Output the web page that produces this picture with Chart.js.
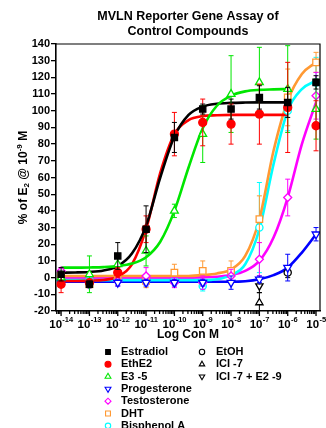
<!DOCTYPE html>
<html>
<head>
<meta charset="utf-8">
<script src="https://cdn.jsdelivr.net/npm/chart.js@4.4.1/dist/chart.umd.min.js"></script>
<style>
    html, body { margin: 0; padding: 0; background: #fff; }
</style>
</head>
<body>
<canvas id="chart" width="326" height="428"></canvas>
<script>
// log molar concentrations of the measured points
const logConc = [-14, -13, -12, -11, -10, -9, -8, -7, -6, -5];

// measured means (% of E2 @ 10-9 M) and error bars
const estradiol = [2, -4, 13, 29, 84, 101, 101, 108, 105, 117];
const estradiolErr = [4, 2, 8, 14, 9, 3, 6, 7, 9, 4];
const ethE2 = [-4, -3, 3, 29, 86, 93, 92, 98, 102, 91];
const ethE2Err = [5, 2, 3, 8, 13, 14, 12, 18, 27, 15];
const e3 = [0, 2, 8, 16, 40, 86, 110, 117, 113, 101];
const e3Err = [3, 11, 4, 9, 4, 17, 23, 21, 26, 18];
const progesterone = [-3, -4, -3, -3, -3, -3, -3, -1, 6, 26];
const progesteroneErr = [2, 2, 2, 2, 2, 2, 4, 2, 8, 4];
const testosterone = [4, -3, -2, 1, -3, -3, 1, 11, 48, 109];
const testosteroneErr = [2, 2, 3, 5, 3, 4, 4, 10, 11, 14];
const dht = [1, -4, 1, -2, 3, 4, 4, 35, 108, 129];
const dhtErr = [3, 2, 3, 4, 5, 6, 6, 14, 17, 6];
const bisphenolA = [-1, -2, -1, -2, -2, -5, 2, 30, 100, 117];
const bisphenolAErr = [2, 2, 2, 2, 2, 3, 4, 27, 12, 15];

// controls
const etohX = [-6], etoh = [3], etohErr = [3];
const iciX = [-7], ici = [-15], iciErr = [6];
const iciE2X = [-7], iciE2 = [-5], iciE2Err = [4];

// fitted curves, every half decade
const curveX = [-14, -13.5, -13, -12.5, -12, -11.5, -11, -10.5, -10, -9.5, -9, -8.5, -8, -7.5, -7, -6.5, -6, -5.5, -5];
const estradiolFit = [3, 3.1, 3.4, 4.3, 6.9, 14.4, 31, 60, 84.6, 97.5, 102.5, 104.2, 104.7, 104.9, 105, 105, 105];
const ethE2Fit = [-2, -2, -1.8, -1.4, 0.6, 7.9, 29, 62.7, 86, 94.4, 96.8, 97.3, 97.5, 97.5, 97.5, 97.5, 97.5];
const e3Fit = [6, 6, 6.1, 6.3, 6.9, 8.4, 12.2, 21.5, 40, 66, 89.5, 103, 109, 111.6, 112.5, 112.8, 113];
const progesteroneFit = [-2.5, -2.5, -2.5, -2.5, -2.5, -2.5, -2.5, -2.5, -2.5, -2.5, -2.5, -2.5, -2.5, -2.2, -1, 1.5, 6, 15, 26];
const testosteroneFit = [0, 0, 0, 0, 0, 0, 0, 0, 0, 0, 0.2, 0.5, 1.5, 4, 10, 24, 48, 80, 105];
const dhtFit = [1, 1, 1, 1, 1, 1, 1, 1, 1, 1, 1.5, 2.5, 5, 13, 35, 76, 106, 122, 129];
const bisphenolAFit = [-1.5, -1.5, -1.5, -1.5, -1.5, -1.5, -1.5, -1.5, -1.5, -1.5, -1.5, -1, 1.5, 8, 29, 68, 100, 113, 118];

const FONT = '"Liberation Sans", Arial, sans-serif';

const series = [
    { name: 'Estradiol', color: '#000000', x: logConc, y: estradiol, err: estradiolErr, fit: estradiolFit, style: 'rect', radius: 4.4, filled: true, rot: 0, fitOrder: 21 },
    { name: 'EthE2', color: '#ff0000', x: logConc, y: ethE2, err: ethE2Err, fit: ethE2Fit, style: 'circle', radius: 4, filled: true, rot: 0, fitOrder: 22 },
    { name: 'E3 -5', color: '#00e600', x: logConc, y: e3, err: e3Err, fit: e3Fit, style: 'triangle', radius: 4.5, filled: false, rot: 0, fitOrder: 20 },
    { name: 'Progesterone', color: '#0000ff', x: logConc, y: progesterone, err: progesteroneErr, fit: progesteroneFit, style: 'triangle', radius: 4.5, filled: false, rot: 180, fitOrder: 26 },
    { name: 'Testosterone', color: '#ff00ff', x: logConc, y: testosterone, err: testosteroneErr, fit: testosteroneFit, style: 'rectRot', radius: 4, filled: false, rot: 0, fitOrder: 25 },
    { name: 'DHT', color: '#ff9933', x: logConc, y: dht, err: dhtErr, fit: dhtFit, style: 'rect', radius: 4.6, filled: false, rot: 0, fitOrder: 23 },
    { name: 'Bisphenol A', color: '#00ffff', x: logConc, y: bisphenolA, err: bisphenolAErr, fit: bisphenolAFit, style: 'circle', radius: 3.6, filled: false, rot: 0, fitOrder: 24 },
    { name: 'EtOH', color: '#000000', x: etohX, y: etoh, err: etohErr, fit: null, style: 'circle', radius: 3.6, filled: false, rot: 0 },
    { name: 'ICI -7', color: '#000000', x: iciX, y: ici, err: iciErr, fit: null, style: 'triangle', radius: 4.2, filled: false, rot: 0 },
    { name: 'ICI -7 + E2 -9', color: '#000000', x: iciE2X, y: iciE2, err: iciE2Err, fit: null, style: 'triangle', radius: 4.2, filled: false, rot: 180 }
];

const datasets = [];
series.forEach((s, i) => {
    if (s.fit) {
        datasets.push({
            label: s.name + ' fit',
            data: s.fit.map((v, j) => ({ x: curveX[j], y: v })),
            showLine: true,
            pointRadius: 0,
            borderColor: s.color,
            borderWidth: 2.6,
            cubicInterpolationMode: 'monotone',
            order: s.fitOrder
        });
    }
    datasets.push({
        label: s.name,
        data: s.x.map((x, j) => ({ x: x, y: s.y[j] })),
        showLine: false,
        pointStyle: s.style,
        pointRotation: s.rot,
        pointRadius: s.radius,
        pointBorderWidth: 1.3,
        pointBorderColor: s.color,
        pointBackgroundColor: s.filled ? s.color : '#ffffff',
        errors: s.err,
        errColor: s.color,
        order: i
    });
});

function drawMarker(ctx, s, x, y, r) {
    ctx.save();
    ctx.fillStyle = s.filled ? s.color : '#ffffff';
    ctx.strokeStyle = s.color;
    ctx.lineWidth = 1.1;
    Chart.helpers.drawPoint(ctx, { pointStyle: s.style, radius: r, rotation: s.rot, borderWidth: 1.1 }, x, y);
    ctx.restore();
}

const errorBars = {
    id: 'errorBars',
    beforeDatasetDraw(chart, args) {
        const ds = chart.data.datasets[args.index];
        if (!ds.errors) return;
        const { ctx, chartArea, scales } = chart;
        ctx.save();
        ctx.beginPath();
        ctx.rect(chartArea.left, chartArea.top - 1, chartArea.right - chartArea.left + 1, chartArea.bottom - chartArea.top + 1);
        ctx.clip();
        ctx.strokeStyle = ds.errColor;
        ctx.lineWidth = 1;
        ds.data.forEach((p, j) => {
            const e = ds.errors[j];
            const px = scales.x.getPixelForValue(p.x);
            const top = scales.y.getPixelForValue(p.y + e);
            const bot = scales.y.getPixelForValue(p.y - e);
            ctx.beginPath();
            ctx.moveTo(px, top); ctx.lineTo(px, bot);
            ctx.moveTo(px - 2.5, top); ctx.lineTo(px + 2.5, top);
            ctx.moveTo(px - 2.5, bot); ctx.lineTo(px + 2.5, bot);
            ctx.stroke();
        });
        ctx.restore();
    }
};

const decorations = {
    id: 'decorations',
    afterDraw(chart) {
        const { ctx, chartArea, scales } = chart;
        const xs = scales.x;
        ctx.save();
        ctx.strokeStyle = '#000';
        ctx.fillStyle = '#000';

        // frame top and right
        ctx.lineWidth = 1.2;
        ctx.beginPath();
        ctx.moveTo(chartArea.left, chartArea.top);
        ctx.lineTo(chartArea.right, chartArea.top);
        ctx.lineTo(chartArea.right, chartArea.bottom);
        ctx.stroke();

        // x ticks, major and minor
        const b = chartArea.bottom;
        ctx.lineWidth = 1.3;
        for (let n = -15; n <= -5; n++) {
            for (let k = 1; k <= 9; k++) {
                const v = n + Math.log10(k);
                if (v < xs.min || v > xs.max) continue;
                const px = xs.getPixelForValue(v);
                ctx.beginPath();
                ctx.moveTo(px, b);
                ctx.lineTo(px, b + (k === 1 ? 5 : 3));
                ctx.stroke();
            }
        }

        // x tick labels 10^n
        logConc.forEach(n => {
            const px = xs.getPixelForValue(n);
            const exp = String(n);
            ctx.font = 'bold 11.5px ' + FONT;
            const w1 = ctx.measureText('10').width;
            ctx.font = 'bold 7.5px ' + FONT;
            const w2 = ctx.measureText(exp).width;
            const start = px - (w1 + w2) / 2;
            ctx.textAlign = 'left';
            ctx.textBaseline = 'alphabetic';
            ctx.font = 'bold 11.5px ' + FONT;
            ctx.fillText('10', start, 328);
            ctx.font = 'bold 7.5px ' + FONT;
            ctx.fillText(exp, start + w1 + 0.3, 322);
        });

        // titles
        ctx.textAlign = 'center';
        ctx.textBaseline = 'middle';
        ctx.font = 'bold 12.5px ' + FONT;
        const cx = (chartArea.left + chartArea.right) / 2;
        ctx.fillText('MVLN Reporter Gene Assay of', cx, 17);
        ctx.fillText('Control Compounds', cx, 32);
        ctx.font = 'bold 12px ' + FONT;
        ctx.fillText('Log Con M', cx, 335);

        // y axis title with sub/superscript
        const parts = [
            ['% of E', 12, 0], ['2', 8, 3], [' @ 10', 12, 0], ['-9', 8, -4], [' M', 12, 0]
        ];
        let total = 0;
        parts.forEach(p => { ctx.font = 'bold ' + p[1] + 'px ' + FONT; total += ctx.measureText(p[0]).width; });
        ctx.translate(24, (chartArea.top + chartArea.bottom) / 2);
        ctx.rotate(-Math.PI / 2);
        ctx.textAlign = 'left';
        let cur = -total / 2;
        parts.forEach(p => {
            ctx.font = 'bold ' + p[1] + 'px ' + FONT;
            ctx.fillText(p[0], cur, p[2]);
            cur += ctx.measureText(p[0]).width;
        });
        ctx.restore();

        // legend in two columns
        ctx.save();
        ctx.font = 'bold 11px ' + FONT;
        ctx.textAlign = 'left';
        ctx.textBaseline = 'middle';
        ctx.fillStyle = '#000';
        const rowY = [352, 364.3, 376.6, 388.9, 401.2, 413.5, 425.8];
        series.forEach((s, i) => {
            const col = i < 7 ? 0 : 1;
            const row = i < 7 ? i : i - 7;
            const mx = col === 0 ? 108 : 202;
            const tx = col === 0 ? 121 : 216;
            drawMarker(ctx, s, mx, rowY[row], s.radius * 0.75);
            ctx.fillStyle = '#000';
            ctx.fillText(s.name, tx, rowY[row]);
        });
        ctx.restore();
    }
};

const ctx = document.getElementById('chart').getContext('2d');
new Chart(ctx, {
    type: 'scatter',
    data: { datasets: datasets },
    options: {
        responsive: false,
        animation: false,
        devicePixelRatio: 1,
        layout: { padding: { top: 44, right: 6, left: 0, bottom: 0 } },
        plugins: {
            legend: { display: false },
            title: { display: false },
            tooltip: { enabled: false }
        },
        scales: {
            x: {
                type: 'linear',
                min: -14.18,
                max: -4.86,
                grid: { display: false },
                ticks: { display: false },
                border: { color: '#000', width: 1.6 },
                afterFit: scale => { scale.height = 117; }
            },
            y: {
                min: -20,
                max: 140,
                ticks: {
                    stepSize: 10,
                    color: '#000',
                    padding: 1,
                    font: { family: FONT, size: 11, weight: 'bold' }
                },
                grid: { drawOnChartArea: false, drawTicks: true, tickLength: 5, color: '#000', lineWidth: 1.3 },
                border: { color: '#000', width: 1.6 },
                afterFit: scale => { scale.width = 56; }
            }
        }
    },
    plugins: [errorBars, decorations]
});
</script>
</body>
</html>
